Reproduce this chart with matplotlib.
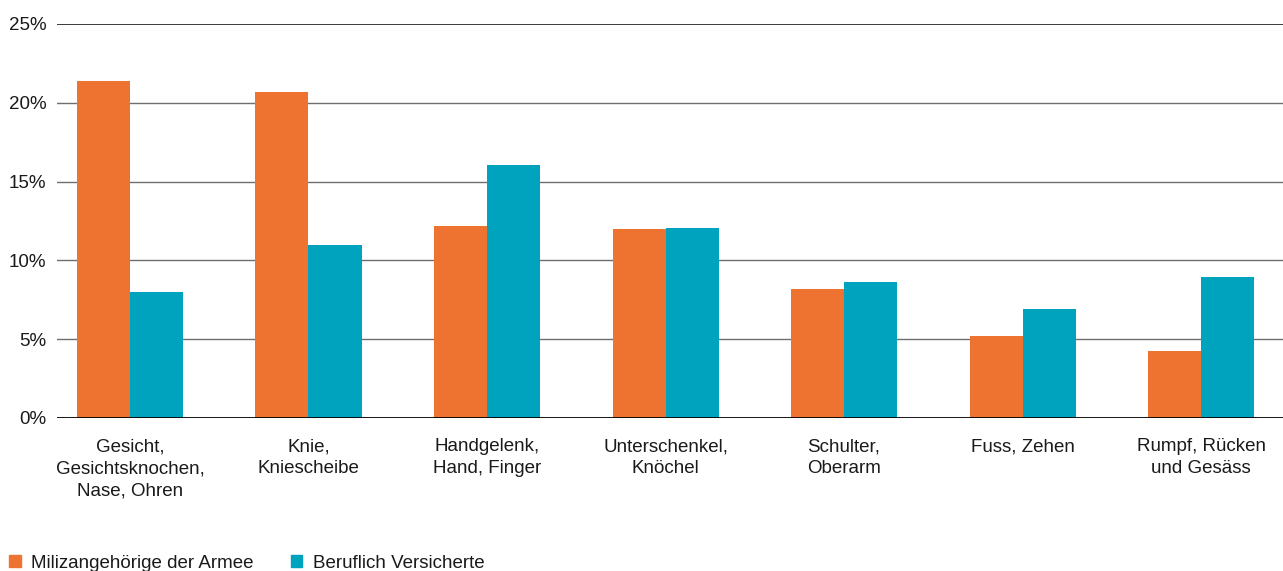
import numpy as np
import matplotlib
matplotlib.use('Agg')
import matplotlib.pyplot as plt
from matplotlib.patches import Patch

plt.rcParams['font.family'] = ['Liberation Sans', 'DejaVu Sans']

categories = ['Gesicht,\nGesichtsknochen,\nNase, Ohren', 'Knie,\nKniescheibe',
              'Handgelenk,\nHand, Finger', 'Unterschenkel,\nKnöchel',
              'Schulter,\nOberarm', 'Fuss, Zehen', 'Rumpf, Rücken\nund Gesäss']
miliz = [21.4, 20.7, 12.2, 12.0, 8.2, 5.2, 4.25]
beruf = [8.0, 11.0, 16.05, 12.05, 8.6, 6.9, 8.95]
series_names = ['Milizangehörige der Armee', 'Beruflich Versicherte']
yticks = [0, 5, 10, 15, 20, 25]

orange = '#ee7330'
teal = '#00a3bd'

fig = plt.figure(figsize=(12.83, 5.71), dpi=100)
ax = fig.add_axes([0.0444, 0.268, 0.9556, 0.690])

x = np.arange(len(categories))
w = 0.297
ax.bar(x - w / 2, miliz, width=w, color=orange, zorder=3)
ax.bar(x + w / 2, beruf, width=w, color=teal, zorder=3)

# horizontal grid, top line darker
for v in yticks[1:-1]:
    ax.axhline(v, color='#6e6e6e', lw=1.0, zorder=1)
ax.axhline(yticks[-1], color='#1a1a1a', lw=1.2, zorder=1)
ax.axhline(0, color='black', lw=2, zorder=4)

ax.set_xlim(-0.409, 6.459)
ax.set_ylim(0, 25)
for s in ax.spines.values():
    s.set_visible(False)
ax.set_yticks(yticks)
ax.set_yticklabels([f'{v}%' for v in yticks], fontsize=13.5, color='#1a1a1a')
ax.tick_params(axis='y', length=0, pad=7.5)
ax.set_xticks(x)
ax.set_xticklabels(categories, fontsize=13.5, color='#1a1a1a', linespacing=1.4)
ax.tick_params(axis='x', length=0, pad=14.5)

handles = [Patch(color=orange), Patch(color=teal)]
fig.legend(handles, series_names, loc='lower left', bbox_to_anchor=(0.0055, -0.005),
           ncol=2, frameon=False, fontsize=13.5, handlelength=0.62, handleheight=0.62,
           handletextpad=0.55, columnspacing=2.0, borderaxespad=0, borderpad=0.1,
           labelcolor='#1a1a1a')

fig.savefig('out.png', dpi=100)
